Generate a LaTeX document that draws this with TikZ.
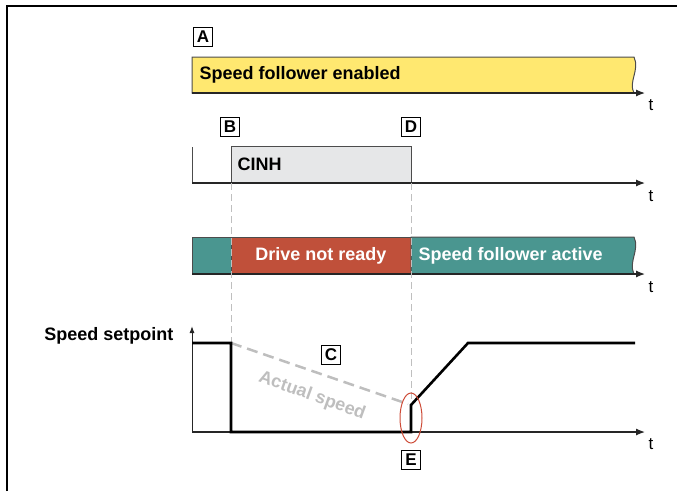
\documentclass[tikz,border=0pt]{standalone}
\usepackage{fontspec}
\setmainfont{Liberation Sans}
\usetikzlibrary{arrows.meta}
\definecolor{followyellow}{RGB}{255,232,112}
\definecolor{cinhgray}{RGB}{230,231,232}
\definecolor{activeteal}{RGB}{74,150,144}
\definecolor{notreadyred}{RGB}{192,80,58}
\definecolor{ringred}{RGB}{205,75,55}
\definecolor{speedgray}{RGB}{190,190,190}
\begin{document}
\begin{tikzpicture}[x=1pt,y=-1pt,
    lbl/.style={draw=black,fill=white,line width=0.9pt,inner sep=0pt,minimum size=19pt,
        font=\fontsize{17}{17}\selectfont\bfseries},
    bartext/.style={font=\fontsize{18}{18}\selectfont\bfseries,anchor=west},
    timeaxis/.style={draw=black!85,line width=1.2pt,-{Latex[length=9pt,width=7pt]}},
    tlabel/.style={font=\fontsize{17}{17}\selectfont},
    barline/.style={draw=black!70,line width=1pt},
    guide/.style={draw=black!25,line width=0.9pt,dash pattern=on 7pt off 4pt}]
    \useasboundingbox (0,0) rectangle (677,491);
    % Frame
    \draw[line width=2.5pt] (7,491) -- (7,6) -- (677,6);

    % Key instants
    \coordinate (B0) at (231,183);
    \coordinate (D0) at (411,183);
    \coordinate (B1) at (231,343);
    \coordinate (D1) at (411,432);

    % Row A: speed follower enabled
    \node[lbl] (A) at (203,37) {A};
    \filldraw[fill=followyellow,barline] (192,93) -- (192,57) -- (634,57)
        .. controls (640,70) and (628,82) .. (634,93) -- cycle;
    \node[bartext] (enabled) at (196,75) {Speed follower enabled};
    \coordinate (A0) at (192,93);
    \coordinate (A1) at (645,93);
    \draw[timeaxis] (A0) -- (A1);
    \node[tlabel] (tA) at (651,105) {t};

    % Row B/D: CINH
    \node[lbl] (B) at (230,127) {B};
    \node[lbl] (D) at (411,127) {D};
    \filldraw[fill=cinhgray,barline] (B0) -- (231,146) -- (411,146) -- (D0);
    \node[bartext] (cinh) at (234,164) {CINH};
    \coordinate (C0) at (192,183);
    \coordinate (C1) at (645,183);
    \draw[barline] (192,147) -- (C0);
    \draw[timeaxis] (C0) -- (C1);
    \node[tlabel] (tC) at (651,196) {t};

    % Row: drive state
    \filldraw[fill=activeteal,barline] (192,237) rectangle (231,274);
    \filldraw[fill=notreadyred,barline] (231,237) rectangle (411,274);
    \filldraw[fill=activeteal,barline] (411,274) -- (411,237) -- (634,237)
        .. controls (640,250) and (628,262) .. (634,274) -- cycle;
    \node[bartext,text=white,anchor=center] (notready) at (321,256) {Drive not ready};
    \node[bartext,text=white] (active) at (415,256) {Speed follower active};
    \coordinate (S0) at (192,274);
    \coordinate (S1) at (645,274);
    \draw[timeaxis] (S0) -- (S1);
    \node[tlabel] (tS) at (651,287) {t};

    % Guide lines
    \draw[guide] (B0) -- (B1);
    \draw[guide] (D0) -- (D1);

    % Speed diagram
    \coordinate (O) at (192,432);
    \coordinate (Y1) at (192,326);
    \coordinate (X1) at (645,432);
    \draw[draw=black!85,line width=1pt,-{Latex[length=7pt,width=5pt]}] (O) -- (Y1);
    \draw[timeaxis] (O) -- (X1);
    \node[tlabel] (tX) at (651,444) {t};
    \node[bartext,anchor=east] (setpoint) at (177,336) {Speed setpoint};
    \draw[speedgray,line width=2.5pt,dash pattern=on 11pt off 6pt] (B1) -- (408,404);
    \draw[line width=2.6pt,line join=miter] (192,343) -- (B1) -- (231,432) -- (D1)
        -- (411,405) -- (468,343) -- (635,343);
    \node[bartext,anchor=center,text=speedgray,rotate=-20] (actual) at (312,396) {Actual speed};
    \node[lbl] (C) at (331,355) {C};
    \draw[ringred,line width=1pt] (411,418) ellipse (11 and 25);
    \node[lbl] (E) at (411,460) {E};
\end{tikzpicture}
\end{document}
